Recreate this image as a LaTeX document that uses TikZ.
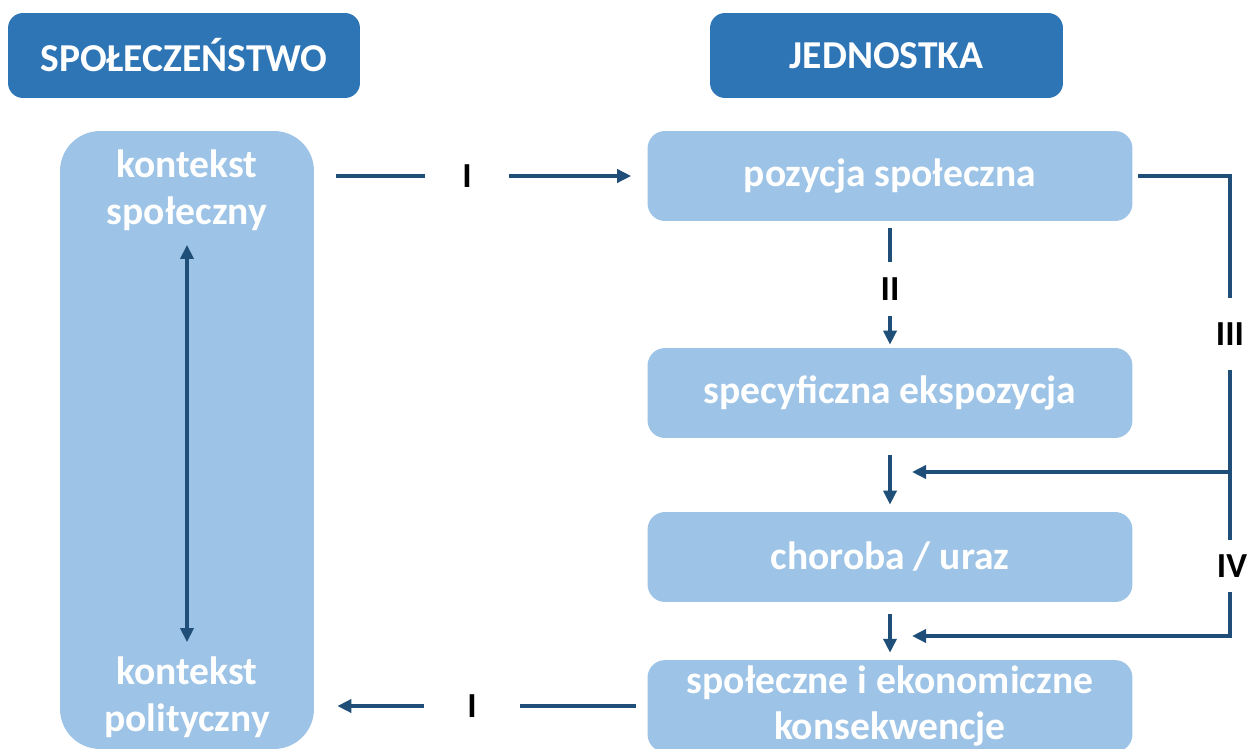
\documentclass[tikz,border=0pt]{standalone}
\usepackage{fontspec}
\setmainfont{Carlito}
\usetikzlibrary{arrows.meta}
\definecolor{headblue}{HTML}{2E75B6}
\definecolor{boxblue}{HTML}{9DC3E6}
\definecolor{linkblue}{HTML}{1F4E79}

\begin{document}
\begin{tikzpicture}[x=0.02cm, y=-0.02cm, every text node part/.style={align=center},
  head/.style={fill=headblue, text=white, rounded corners=0.3cm, minimum height=1.7cm, font=\bfseries\fontsize{22.5}{26}\selectfont},
  box/.style={fill=boxblue, text=white, rounded corners=0.35cm, minimum width=9.7cm, minimum height=1.8cm, font=\bfseries\fontsize{22.5}{26}\selectfont},
  txt/.style={text=white, font=\bfseries\fontsize{22.5}{27}\selectfont},
  num/.style={font=\bfseries\fontsize{20}{24}\selectfont, inner sep=0pt},
  link/.style={draw=linkblue, line width=2.2pt},
  tip/.style={-{Triangle[length=0.28cm, width=0.26cm]}}]
\useasboundingbox (0,0) rectangle (1253,749);

% headers
\node [head, minimum width=7.04cm] (soc) at (184,55.5) {SPOŁECZEŃSTWO};
\node [head, minimum width=7.06cm] (ind) at (886.5,55.5) {JEDNOSTKA};

% left column
\node [fill=boxblue, rounded corners=0.8cm, minimum width=5.08cm, minimum height=12.36cm] (ctx) at (187,440) {};
\node [txt] (kspol) at (187,190) {kontekst\\społeczny};
\node [txt] (kpol) at (187,697) {kontekst\\polityczny};
\draw [link, {Triangle[length=0.28cm, width=0.26cm]}-{Triangle[length=0.28cm, width=0.26cm]}, shorten <=0.16cm, shorten >=0.16cm] (kspol.south) -- (kpol.north);

% right column
\node [box] (poz) at (890,176) {pozycja społeczna};
\node [box] (spec) at (890,393) {specyficzna ekspozycja};
\node [box] (chor) at (890,557) {choroba / uraz};
\node [box, minimum height=1.76cm] (kons) at (890,706) {społeczne i ekonomiczne\\konsekwencje};

% labels
\node [num, minimum width=1.66cm] (top I) at (467,176) {I};
\node [num, minimum width=1.9cm] (bot I) at (472,706) {I};
\node [num, minimum height=1.08cm] (II) at (890,289) {II};
\node [num, minimum height=1.44cm] (III) at (1230,334) {III};
\node [num, minimum height=1.04cm] (IV) at (1232,566) {IV};
\coordinate (j1) at (1230,472);
\coordinate (j2) at (1230,636);
\coordinate (e1) at (912,472);
\coordinate (e2) at (912,636);

% I
\draw [link, shorten <=0.44cm] (ctx.east |- poz.west) -- (top I.west);
\draw [link, tip, shorten >=0.32cm] (top I.east) -- (poz.west);
\draw [link, shorten <=0.22cm] (kons.west) -- (bot I.east);
\draw [link, tip, shorten >=0.46cm] (bot I.west) -- (ctx.east |- kons.west);
% II
\draw [link, shorten <=0.14cm] (poz.south) -- (II.north);
\draw [link, tip, shorten >=0.06cm] (II.south) -- (spec.north);
\draw [link, tip, shorten <=0.34cm, shorten >=0.14cm] (spec.south) -- (chor.north);
\draw [link, tip, shorten <=0.24cm, shorten >=0.14cm] (chor.south) -- (kons.north);
% III
\draw [link, shorten <=0.1cm] (poz.east) -| (III.north);
\draw [link] (III.south) -- (j1) -- (IV.north -| j1);
\draw [link, tip] (j1) -- (e1);
% IV
\draw [link, tip] (IV.south -| j2) -- (j2) -- (e2);

\end{tikzpicture}
\end{document}
